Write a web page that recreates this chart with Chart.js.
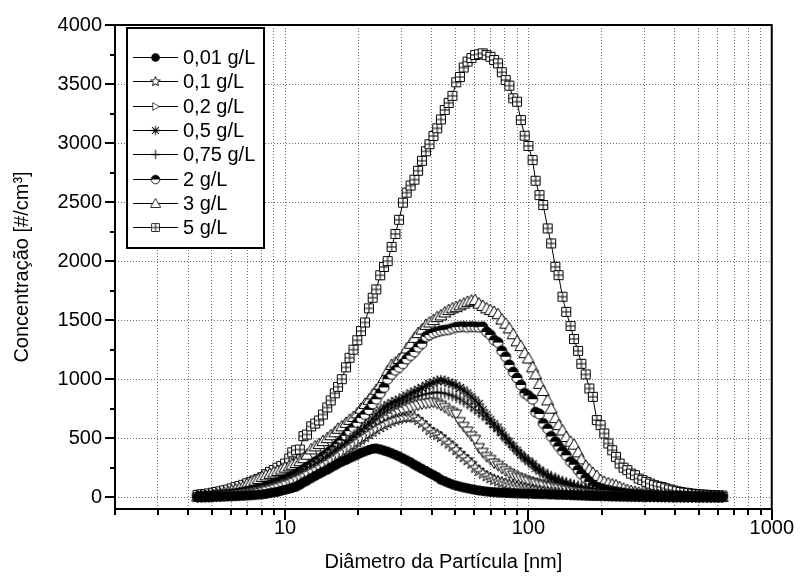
<!DOCTYPE html>
<html>
<head>
<meta charset="utf-8">
<title>Concentração x Diâmetro</title>
<script src="https://cdn.jsdelivr.net/npm/chart.js@4.4.1/dist/chart.umd.min.js"></script>
<style>
  html, body { margin: 0; padding: 0; background: #fff; }
</style>
</head>
<body>
<canvas id="chart" width="801" height="578"></canvas>
<script>
// SMPS channel diameters (nm), 64 channels/decade
const diameters = [
  4.37, 4.53, 4.7, 4.87, 5.05, 5.23, 5.42, 5.62, 5.83, 6.04,
  6.26, 6.49, 6.73, 6.98, 7.23, 7.5, 7.77, 8.06, 8.35, 8.66,
  8.98, 9.31, 9.65, 10, 10.4, 10.7, 11.1, 11.5, 11.9, 12.3,
  12.8, 13.3, 13.8, 14.3, 14.9, 15.4, 16, 16.5, 17.1, 17.8,
  18.4, 19.1, 19.8, 20.5, 21.3, 22.1, 22.9, 23.7, 24.6, 25.5,
  26.4, 27.4, 28.4, 29.4, 30.5, 31.6, 32.8, 34, 35.2, 36.5,
  37.9, 39.2, 40.7, 42.2, 43.7, 45.3, 47, 48.7, 50.5, 52.3,
  54.2, 56.2, 58.3, 60.4, 62.6, 64.9, 67.3, 69.8, 72.3, 75,
  77.7, 80.6, 83.5, 86.6, 89.8, 93.1, 96.5, 100, 104, 107,
  111, 115, 120, 124, 129, 133, 138, 143, 149, 154,
  160, 165, 172, 178, 184, 191, 198, 205, 213, 221,
  229, 237, 246, 255, 264, 274, 284, 294, 305, 316,
  328, 340, 352, 365, 379, 392, 407, 422, 437, 453,
  470, 487, 505, 523, 542, 562, 583, 604, 626
];

const conc001 = [
  2, 2, 3, 3, 4, 5, 5, 6, 7, 8,
  9, 10, 12, 14, 16, 18, 21, 24, 28, 34,
  40, 45, 55, 62, 70, 78, 88, 105, 125, 140,
  160, 180, 198, 215, 232, 250, 268, 285, 300, 315,
  330, 345, 360, 375, 388, 400, 410, 412, 405, 395,
  385, 372, 358, 345, 328, 312, 295, 275, 258, 240,
  222, 205, 188, 170, 148, 135, 120, 108, 98, 90,
  82, 75, 68, 62, 57, 52, 48, 45, 42, 40,
  38, 36, 34, 33, 32, 31, 30, 29, 28, 27,
  26, 25, 24, 23, 22, 21, 20, 19, 18, 17,
  16, 15, 14, 13, 12, 12, 11, 10, 10, 9,
  9, 8, 8, 7, 7, 6, 6, 6, 5, 5,
  5, 4, 4, 4, 4, 3, 3, 3, 3, 3,
  2, 2, 2, 2, 2, 2, 2, 2, 2
];

const conc01 = [
  3, 4, 5, 6, 8, 10, 12, 14, 17, 20,
  24, 28, 32, 37, 42, 48, 55, 62, 70, 78,
  87, 96, 106, 117, 128, 140, 153, 167, 182, 198,
  215, 232, 250, 270, 290, 310, 330, 352, 375, 398,
  420, 443, 466, 490, 512, 535, 555, 575, 595, 612,
  628, 642, 655, 665, 672, 678, 680, 675, 655, 630,
  600, 570, 545, 530, 510, 480, 455, 430, 400, 370,
  340, 315, 285, 250, 225, 200, 178, 162, 148, 136,
  126, 116, 106, 97, 89, 81, 74, 67, 61, 56,
  51, 46, 42, 38, 35, 32, 29, 26, 24, 22,
  20, 18, 16, 15, 14, 12, 11, 10, 9, 8,
  8, 7, 6, 6, 5, 5, 5, 4, 4, 4,
  3, 3, 3, 3, 3, 2, 2, 2, 2, 2,
  2, 2, 2, 1, 1, 1, 1, 1, 1
];

const conc02 = [
  3, 4, 5, 6, 8, 10, 12, 14, 17, 20,
  23, 27, 31, 36, 41, 47, 53, 60, 68, 76,
  85, 95, 105, 116, 128, 140, 153, 167, 182, 198,
  215, 232, 250, 268, 288, 308, 328, 350, 372, 395,
  418, 442, 466, 490, 515, 540, 565, 590, 615, 640,
  660, 680, 700, 715, 730, 745, 760, 770, 780, 790,
  795, 800, 805, 795, 780, 760, 735, 720, 705, 640,
  600, 560, 520, 490, 420, 380, 345, 320, 290, 270,
  245, 225, 205, 188, 172, 160, 148, 138, 128, 120,
  110, 102, 95, 88, 82, 75, 68, 60, 55, 50,
  46, 42, 38, 35, 32, 29, 26, 24, 22, 20,
  18, 16, 15, 14, 12, 11, 10, 9, 8, 8,
  7, 6, 6, 5, 5, 5, 4, 4, 4, 3,
  3, 3, 3, 2, 2, 2, 2, 2, 2
];

const conc05 = [
  5, 6, 8, 10, 12, 14, 16, 19, 22, 26,
  30, 35, 40, 46, 52, 60, 68, 76, 85, 95,
  105, 116, 128, 140, 155, 170, 185, 200, 218, 235,
  255, 275, 295, 318, 340, 362, 385, 410, 435, 460,
  485, 510, 540, 570, 600, 630, 665, 700, 735, 760,
  780, 800, 815, 825, 845, 860, 880, 895, 910, 925,
  945, 960, 970, 985, 990, 985, 970, 960, 945, 925,
  905, 880, 850, 820, 790, 740, 700, 655, 620, 590,
  550, 505, 470, 430, 395, 360, 330, 305, 280, 245,
  225, 200, 175, 160, 148, 135, 122, 115, 105, 95,
  80, 72, 65, 60, 55, 50, 45, 40, 36, 32,
  29, 26, 23, 21, 19, 17, 15, 14, 12, 11,
  10, 9, 8, 8, 7, 6, 6, 5, 5, 5,
  4, 4, 4, 3, 3, 3, 3, 2, 2
];

const conc075 = [
  4, 5, 7, 9, 11, 13, 15, 17, 20, 24,
  28, 32, 37, 42, 48, 55, 62, 70, 78, 88,
  98, 108, 118, 130, 143, 157, 172, 188, 205, 222,
  240, 260, 280, 300, 322, 345, 368, 392, 415, 440,
  465, 490, 515, 540, 570, 600, 630, 660, 690, 715,
  735, 755, 770, 785, 800, 815, 830, 845, 855, 865,
  875, 880, 885, 890, 885, 880, 870, 860, 845, 830,
  810, 790, 765, 740, 715, 690, 660, 625, 595, 565,
  530, 495, 460, 425, 395, 365, 335, 310, 285, 260,
  238, 215, 195, 178, 162, 148, 135, 124, 114, 104,
  95, 86, 78, 70, 63, 57, 51, 46, 41, 37,
  33, 30, 27, 24, 22, 20, 18, 16, 14, 13,
  12, 11, 10, 9, 8, 7, 7, 6, 6, 5,
  5, 4, 4, 4, 3, 3, 3, 3, 2
];

const conc2 = [
  3, 5, 6, 8, 10, 12, 15, 18, 22, 26,
  30, 35, 42, 48, 55, 62, 70, 80, 90, 100,
  112, 125, 138, 150, 165, 180, 195, 215, 235, 255,
  275, 300, 320, 345, 370, 395, 420, 450, 480, 520,
  560, 590, 630, 670, 700, 740, 790, 830, 880, 930,
  1000, 1040, 1075, 1100, 1130, 1170, 1200, 1230, 1270, 1300,
  1360, 1375, 1390, 1400, 1410, 1415, 1420, 1430, 1440, 1442,
  1445, 1440, 1445, 1443, 1440, 1443, 1400, 1375, 1330, 1310,
  1240, 1190, 1120, 1060, 1010, 950, 880, 860, 830, 720,
  705, 625, 580, 515, 470, 430, 390, 355, 300, 275,
  230, 195, 160, 130, 100, 85, 75, 65, 58, 50,
  45, 40, 35, 30, 27, 24, 21, 19, 17, 15,
  13, 12, 11, 10, 9, 8, 8, 7, 6, 6,
  5, 5, 5, 4, 4, 4, 3, 3, 3
];

const conc3 = [
  5, 8, 10, 15, 20, 25, 30, 38, 45, 55,
  65, 75, 90, 110, 125, 140, 155, 172, 185, 198,
  210, 222, 235, 250, 262, 275, 290, 305, 330, 360,
  405, 430, 450, 475, 500, 525, 550, 580, 600, 630,
  655, 680, 710, 750, 790, 825, 870, 910, 950, 1010,
  1070, 1120, 1140, 1170, 1200, 1260, 1300, 1350, 1390, 1420,
  1460, 1480, 1500, 1525, 1540, 1565, 1585, 1600, 1610, 1625,
  1640, 1655, 1665, 1670, 1640, 1620, 1600, 1585, 1570, 1550,
  1505, 1470, 1430, 1380, 1320, 1280, 1220, 1175, 1100, 1040,
  960, 900, 820, 750, 670, 610, 565, 510, 470, 445,
  380, 320, 265, 235, 205, 180, 145, 130, 118, 108,
  100, 85, 72, 60, 52, 45, 38, 33, 30, 26,
  22, 20, 18, 16, 14, 12, 11, 10, 9, 8,
  8, 7, 6, 6, 5, 5, 5, 4, 4
];

const conc5 = [
  20, 25, 28, 32, 38, 45, 50, 58, 65, 75,
  85, 95, 105, 118, 130, 142, 155, 170, 195, 215,
  230, 250, 265, 285, 328, 380, 398, 404, 517, 531,
  600, 624, 650, 700, 760, 820, 880, 935, 1000, 1100,
  1181, 1250, 1330, 1407, 1480, 1600, 1690, 1760, 1880, 1950,
  2000, 2120, 2230, 2350, 2495, 2580, 2640, 2690, 2765, 2850,
  2930, 2990, 3060, 3125, 3200, 3280, 3340, 3400, 3515, 3560,
  3640, 3690, 3720, 3746, 3752, 3760, 3745, 3731, 3703, 3675,
  3600, 3534, 3486, 3379, 3350, 3195, 3062, 2975, 2856, 2681,
  2559, 2475, 2277, 2150, 1952, 1881, 1698, 1570, 1450, 1340,
  1240, 1130, 1040, 921, 850, 653, 610, 540, 455, 398,
  342, 285, 250, 229, 200, 186, 158, 145, 130, 115,
  102, 92, 87, 76, 66, 58, 50, 44, 39, 34,
  30, 27, 24, 22, 20, 18, 16, 15, 14
];

const seriesLabels = ['0,01 g/L', '0,1 g/L', '0,2 g/L', '0,5 g/L', '0,75 g/L', '2 g/L', '3 g/L', '5 g/L'];
const seriesValues = [conc001, conc01, conc02, conc05, conc075, conc2, conc3, conc5];

const xTicks = [2, 3, 4, 5, 6, 7, 8, 9, 10, 20, 30, 40, 50, 60, 70, 80, 90, 100,
  200, 300, 400, 500, 600, 700, 800, 900, 1000];
const xLabelled = [10, 100, 1000];
const yTicks = [0, 500, 1000, 1500, 2000, 2500, 3000, 3500, 4000];

// marker glyphs drawn on small canvases
function marker(draw) {
  const c = document.createElement('canvas');
  c.width = 14;
  c.height = 14;
  const g = c.getContext('2d');
  g.translate(7, 7);
  g.lineWidth = 1;
  g.strokeStyle = '#000';
  g.fillStyle = '#fff';
  draw(g);
  return c;
}

const markers = [
  marker(g => { // filled circle
    g.beginPath(); g.arc(0, 0, 5, 0, Math.PI * 2);
    g.fillStyle = '#000'; g.fill();
  }),
  marker(g => { // open star
    g.beginPath();
    for (let i = 0; i < 10; i++) {
      const r = i % 2 ? 2.6 : 6;
      const a = -Math.PI / 2 + i * Math.PI / 5;
      g.lineTo(r * Math.cos(a), r * Math.sin(a));
    }
    g.closePath(); g.fill(); g.stroke();
  }),
  marker(g => { // open triangle down
    g.beginPath(); g.moveTo(-5.5, -4); g.lineTo(5.5, -4); g.lineTo(0, 5.5);
    g.closePath(); g.fill(); g.stroke();
  }),
  marker(g => { // asterisk
    g.lineWidth = 1.2;
    g.beginPath();
    for (let i = 0; i < 4; i++) {
      const a = i * Math.PI / 4;
      g.moveTo(-5.5 * Math.cos(a), -5.5 * Math.sin(a));
      g.lineTo(5.5 * Math.cos(a), 5.5 * Math.sin(a));
    }
    g.stroke();
  }),
  marker(g => { // plus
    g.lineWidth = 1.2;
    g.beginPath(); g.moveTo(-5.5, 0); g.lineTo(5.5, 0); g.moveTo(0, -5.5); g.lineTo(0, 5.5);
    g.stroke();
  }),
  marker(g => { // half filled circle
    g.beginPath(); g.arc(0, 0, 5, 0, Math.PI * 2); g.fill(); g.stroke();
    g.beginPath(); g.arc(0, 0, 5, Math.PI, Math.PI * 2); g.closePath();
    g.fillStyle = '#000'; g.fill();
  }),
  marker(g => { // open triangle up
    g.beginPath(); g.moveTo(0, -6); g.lineTo(6, 4.5); g.lineTo(-6, 4.5);
    g.closePath(); g.fill(); g.stroke();
  }),
  marker(g => { // square with cross
    g.beginPath(); g.rect(-4.5, -4.5, 9, 9); g.fill(); g.stroke();
    g.beginPath(); g.moveTo(0, -4.5); g.lineTo(0, 4.5); g.moveTo(-4.5, 0); g.lineTo(4.5, 0);
    g.stroke();
  })
];
const legendRotation = [0, 0, -90, 0, 0, 0, 0, 0];

const datasets = seriesValues.map((vals, i) => ({
  label: seriesLabels[i],
  data: vals.map((v, k) => ({ x: diameters[k], y: v })),
  borderColor: '#000',
  borderWidth: 1,
  pointStyle: markers[i],
  pointRadius: 5,
  tension: 0,
  fill: false
}));

const FONT = '"Liberation Sans", Arial, Helvetica, sans-serif';
Chart.defaults.font.family = FONT;
Chart.defaults.font.size = 20;
Chart.defaults.color = '#000';

const legendBox = {
  id: 'legendBox',
  afterDraw(chart) {
    const ctx = chart.ctx;
    ctx.save();
    ctx.fillStyle = '#fff';
    ctx.fillRect(127, 28, 137, 220);
    ctx.strokeStyle = '#000';
    ctx.lineWidth = 2;
    ctx.strokeRect(127, 28, 137, 220);
    ctx.font = '20px ' + FONT;
    ctx.textBaseline = 'middle';
    chart.data.datasets.forEach((ds, i) => {
      const ry = Math.round(57 + i * 24.3) + 0.5;
      ctx.lineWidth = 1;
      ctx.beginPath();
      ctx.moveTo(133, ry);
      ctx.lineTo(178, ry);
      ctx.stroke();
      const img = ds.pointStyle;
      ctx.save();
      ctx.translate(155.5, ry);
      ctx.rotate(legendRotation[i] * Math.PI / 180);
      const s = legendRotation[i] ? 0.7 : 0.85;
      ctx.drawImage(img, -img.width * s / 2, -img.height * s / 2, img.width * s, img.height * s);
      ctx.restore();
      ctx.fillStyle = '#000';
      ctx.fillText(ds.label, 183, ry + 1);
    });
    ctx.restore();
  }
};

const axisFrame = {
  id: 'axisFrame',
  afterDraw(chart) {
    const { ctx, chartArea: a, scales: { x, y } } = chart;
    ctx.save();
    ctx.strokeStyle = '#000';
    ctx.lineWidth = 2;
    ctx.beginPath();
    yTicks.forEach((v, i) => {
      const py = Math.round(y.getPixelForValue(v));
      ctx.moveTo(a.left - 10, py);
      ctx.lineTo(a.left, py);
      if (i < yTicks.length - 1) {
        const pm = Math.round(y.getPixelForValue((v + yTicks[i + 1]) / 2));
        ctx.moveTo(a.left - 5, pm);
        ctx.lineTo(a.left, pm);
      }
    });
    xTicks.forEach(v => {
      const px = Math.round(x.getPixelForValue(v));
      const len = xLabelled.includes(v) ? 11 : 6;
      ctx.moveTo(px, a.bottom);
      ctx.lineTo(px, a.bottom + len);
    });
    ctx.stroke();
    ctx.strokeRect(a.left, a.top, a.right - a.left, a.bottom - a.top);
    ctx.restore();
  }
};

new Chart(document.getElementById('chart'), {
  type: 'line',
  data: { datasets },
  options: {
    responsive: false,
    animation: false,
    events: [],
    layout: { padding: { top: 25, right: 24, left: 0, bottom: 0 } },
    plugins: {
      legend: { display: false },
      tooltip: { enabled: false }
    },
    scales: {
      x: {
        type: 'logarithmic',
        min: 2,
        max: 1000,
        afterBuildTicks: scale => { scale.ticks = xTicks.map(v => ({ value: v })); },
        afterFit: scale => { scale.height = 69; },
        ticks: {
          autoSkip: false,
          maxRotation: 0,
          padding: 7,
          callback: v => xLabelled.includes(v) ? String(v) : ''
        },
        grid: { color: '#6e6e6e', lineWidth: 1, drawTicks: false },
        border: { display: false, dash: [1, 2] },
        title: {
          display: true,
          text: 'Diâmetro da Partícula [nm]',
          padding: { top: 4, bottom: 4 }
        }
      },
      y: {
        min: -100,
        max: 4000,
        afterBuildTicks: scale => { scale.ticks = yTicks.map(v => ({ value: v })); },
        afterFit: scale => { scale.width = 115; },
        ticks: {
          padding: 13,
          callback: v => String(v)
        },
        grid: { color: '#6e6e6e', lineWidth: 1, drawTicks: false },
        border: { display: false, dash: [1, 2] },
        title: {
          display: true,
          text: 'Concentração [#/cm³]',
          padding: { top: 10, bottom: 10 }
        }
      }
    }
  },
  plugins: [legendBox, axisFrame]
});
</script>
</body>
</html>
